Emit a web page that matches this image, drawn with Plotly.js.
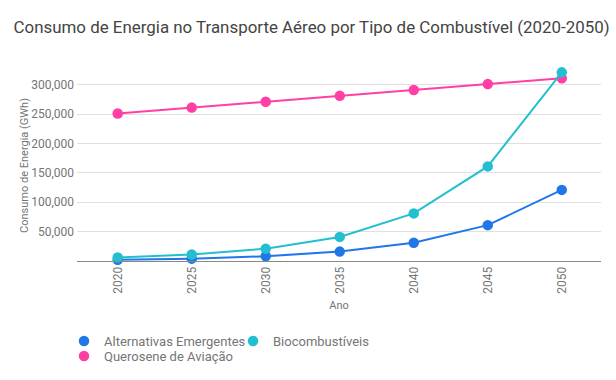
<!DOCTYPE html>
<html>
<head>
<meta charset="utf-8">
<script src="https://cdn.plot.ly/plotly-3.0.1.min.js"></script>
<style>html,body{margin:0;padding:0;background:#fff;}#chart{width:616px;height:380px;}.legendlines{display:none;}</style>
</head>
<body>
<div id="chart"></div>
<script>
const anos = ["2020", "2025", "2030", "2035", "2040", "2045", "2050"];
const alternativas = [2000, 4000, 8000, 16000, 31000, 61000, 121000];
const biocombustiveis = [6000, 11000, 21000, 41000, 81000, 161000, 321000];
const querosene = [251000, 261000, 271000, 281000, 291000, 301000, 311000];

const nomes = ["Alternativas Emergentes", "Biocombustíveis", "Querosene de Aviação"];
const cores = ["#2176E8", "#22BFD0", "#FF3FA3"];

function serie(nome, y, cor, leg, rank) {
  return {
    x: anos, y: y, name: nome, type: "scatter", mode: "lines+markers",
    line: {color: cor, width: 2}, marker: {color: cor, size: 10.5},
    cliponaxis: false, legend: leg, legendrank: rank
  };
}

const data = [
  serie(nomes[2], querosene, cores[2], "legend2", 3),
  serie(nomes[0], alternativas, cores[0], "legend", 1),
  serie(nomes[1], biocombustiveis, cores[1], "legend", 2)
];

const fontTick = {family: "Roboto, sans-serif", size: 12, color: "#757575"};
const legFont = {family: "Roboto, sans-serif", size: 13, color: "#757575"};
const layout = {
  width: 616, height: 380,
  margin: {l: 77, r: 15, t: 70, b: 119},
  paper_bgcolor: "#fff", plot_bgcolor: "#fff",
  title: {text: "Consumo de Energia no Transporte Aéreo por Tipo de Combustível (2020-2050)",
    font: {family: "Roboto, sans-serif", size: 16.9, color: "#444"},
    x: 0.022, xanchor: "left", y: 0.93, yanchor: "middle"},
  xaxis: {
    type: "category", range: [-0.55, 6.53],
    tickangle: -90, tickfont: fontTick, showgrid: false,
    showline: true, linecolor: "#888", linewidth: 1, ticks: "",
    title: {text: "Ano", font: {family: "Roboto, sans-serif", size: 11, color: "#757575"}, standoff: 8}
  },
  yaxis: {
    range: [0, 325000], tickvals: [50000, 100000, 150000, 200000, 250000, 300000],
    tickformat: ",d", tickfont: fontTick, gridcolor: "#e0e0e0", zeroline: false,
    ticks: "", ticklabelstandoff: 2,
    title: {text: "Consumo de Energia (GWh)", font: {family: "Roboto, sans-serif", size: 11, color: "#757575"}, standoff: 0}
  },
  showlegend: true,
  legend: {orientation: "h", xref: "container", yref: "container", x: 0.1039, xanchor: "left", y: 0.1421, yanchor: "top",
    bgcolor: "rgba(0,0,0,0)",
    font: legFont, itemsizing: "trace", entrywidth: 124, entrywidthmode: "pixels", tracegroupgap: 0, itemwidth: 30},
  legend2: {orientation: "h", xref: "container", yref: "container", x: 0.1039, xanchor: "left", y: 0.1026, yanchor: "top",
    bgcolor: "rgba(0,0,0,0)",
    font: legFont, itemsizing: "trace", tracegroupgap: 0, itemwidth: 30}
};

Plotly.newPlot("chart", data, layout, {displayModeBar: false, staticPlot: true});
</script>
</body>
</html>
